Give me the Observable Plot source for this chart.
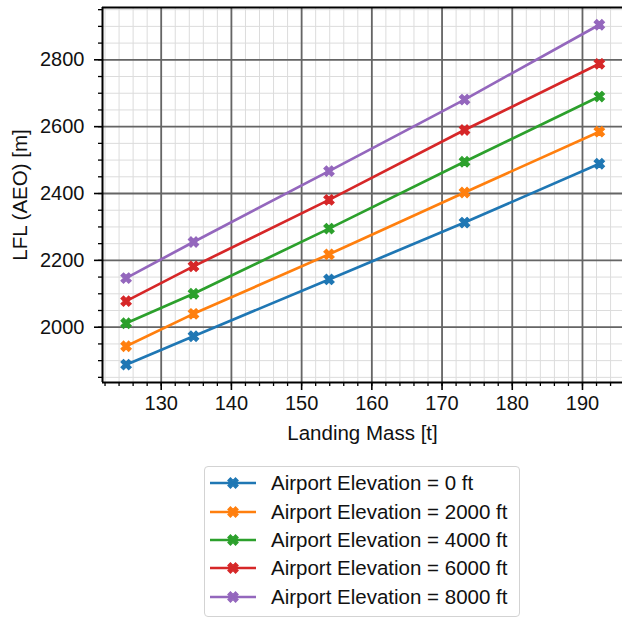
<!DOCTYPE html>
<html>
<head>
<meta charset="utf-8">
<script src="https://cdn.jsdelivr.net/npm/d3@7"></script>
<script src="https://cdn.jsdelivr.net/npm/@observablehq/plot@0.6"></script>
<style>
  html, body { margin: 0; padding: 0; background: #fff; }
  body { width: 622px; font-family: "Liberation Sans", Arial, sans-serif; }
  #legend {
    margin-left: 204px; margin-top: 6px; width: 316px; height: 151px;
    box-sizing: border-box; border: 1px solid #d3d3d3; border-radius: 4px;
    padding-top: 2px; font-size: 20.5px; color: #111;
  }
  .row { height: 28.4px; display: flex; align-items: center; }
  .row svg { margin-left: 5px; margin-right: 15px; }
</style>
</head>
<body>
<div id="chart"></div>
<div id="legend"></div>
<script>
// ---- data ----
const masses = [125, 134.6, 153.9, 173.2, 192.4];
const elevations = ["0", "2000", "4000", "6000", "8000"];
const lfl0 = [1888, 1973, 2143, 2313, 2489];
const lfl2000 = [1943, 2040, 2218, 2403, 2585];
const lfl4000 = [2012, 2100, 2295, 2495, 2690];
const lfl6000 = [2078, 2182, 2381, 2590, 2788];
const lfl8000 = [2147, 2255, 2467, 2681, 2905];
const xTicks = [130, 140, 150, 160, 170, 180, 190];
const yTicks = [2000, 2200, 2400, 2600, 2800];
const colors = ["#1f77b4", "#ff7f0e", "#2ca02c", "#d62728", "#9467bd"];
const xLabel = "Landing Mass [t]";
const yLabel = "LFL (AEO) [m]";

const seriesValues = [lfl0, lfl2000, lfl4000, lfl6000, lfl8000];
const labels = elevations.map(e => `Airport Elevation = ${e} ft`);
const rows = [];
seriesValues.forEach((vals, i) => vals.forEach((v, j) => rows.push({mass: masses[j], lfl: v, series: labels[i]})));

const xDomain = [121.64, 195.7];
const yDomain = [1834.6, 2956.5];
const xMinor = d3.range(122, 195, 2);
const yMinor = d3.range(1850, 2951, 50);

// filled "X" marker (matplotlib style)
const xFilled = {
  draw(context, size) {
    const r = Math.sqrt(size / Math.PI);
    const L = r, h = r / 3;
    const pts = [[-h,-L],[h,-L],[h,-h],[L,-h],[L,h],[h,h],[h,L],[-h,L],[-h,h],[-L,h],[-L,-h],[-h,-h]];
    const c = Math.SQRT1_2;
    pts.forEach(([x, y], i) => {
      const X = (x - y) * c, Y = (x + y) * c;
      i ? context.lineTo(X, Y) : context.moveTo(X, Y);
    });
    context.closePath();
  }
};
const markerR = 5.4;
const lineW = 2.7;

const plot = Plot.plot({
  width: 622,
  height: 460,
  marginLeft: 102,
  marginRight: 0,
  marginTop: 7,
  marginBottom: 78,
  style: {fontFamily: "Liberation Sans, Arial, sans-serif", fontSize: "20px", color: "#000", background: "#fff"},
  x: {domain: xDomain},
  y: {domain: yDomain},
  color: {domain: labels, range: colors},
  marks: [
    Plot.ruleX(xMinor, {stroke: "#dcdcdc", strokeWidth: 1}),
    Plot.ruleY(yMinor, {stroke: "#dcdcdc", strokeWidth: 1}),
    Plot.ruleX(xTicks, {stroke: "#656565", strokeWidth: 1.8}),
    Plot.ruleY(yTicks, {stroke: "#656565", strokeWidth: 1.8}),
    Plot.axisX({ticks: xMinor, tickSize: 4, text: null, label: null, strokeWidth: 1.3, stroke: "#000"}),
    Plot.axisY({ticks: yMinor, tickSize: 4, text: null, label: null, strokeWidth: 1.3, stroke: "#000"}),
    Plot.axisX({ticks: xTicks, tickSize: 8, tickPadding: 5, tickFormat: d3.format("d"), label: null, strokeWidth: 1.6, stroke: "#000", fontSize: 20, fill: "#111"}),
    Plot.axisY({ticks: yTicks, tickSize: 8, tickPadding: 10, tickFormat: d3.format("d"), label: null, strokeWidth: 1.6, stroke: "#000", fontSize: 20, fill: "#111"}),
    Plot.ruleX([xDomain[0]], {stroke: "#000", strokeWidth: 2}),
    Plot.ruleY([yDomain[0]], {stroke: "#000", strokeWidth: 2}),
    Plot.ruleY([yDomain[1]], {stroke: "#000", strokeWidth: 2}),
    Plot.line(rows, {x: "mass", y: "lfl", z: "series", stroke: "series", strokeWidth: lineW}),
    Plot.dot(rows, {x: "mass", y: "lfl", fill: "series", stroke: "series", strokeWidth: 1.2, symbol: xFilled, r: markerR}),
    Plot.text([xLabel], {frameAnchor: "bottom", dy: 51, lineAnchor: "middle", fontSize: 20.5, fill: "#111"}),
    Plot.text([yLabel], {frameAnchor: "left", dx: -82, rotate: -90, lineAnchor: "middle", textAnchor: "middle", fontSize: 20.5, fill: "#111"})
  ]
});
document.getElementById("chart").appendChild(plot);

// legend
const legend = d3.select("#legend");
labels.forEach((lab, i) => {
  const row = legend.append("div").attr("class", "row");
  const sw = row.append("svg").attr("width", 46).attr("height", 14);
  sw.append("line").attr("x1", 0).attr("x2", 46).attr("y1", 7).attr("y2", 7)
    .attr("stroke", colors[i]).attr("stroke-width", lineW);
  const path = d3.path();
  xFilled.draw(path, Math.PI * markerR * markerR);
  sw.append("path").attr("d", path.toString()).attr("transform", "translate(23,7)")
    .attr("fill", colors[i]).attr("stroke", colors[i]).attr("stroke-width", 1.2);
  row.append("span").text(lab);
});
</script>
</body>
</html>
